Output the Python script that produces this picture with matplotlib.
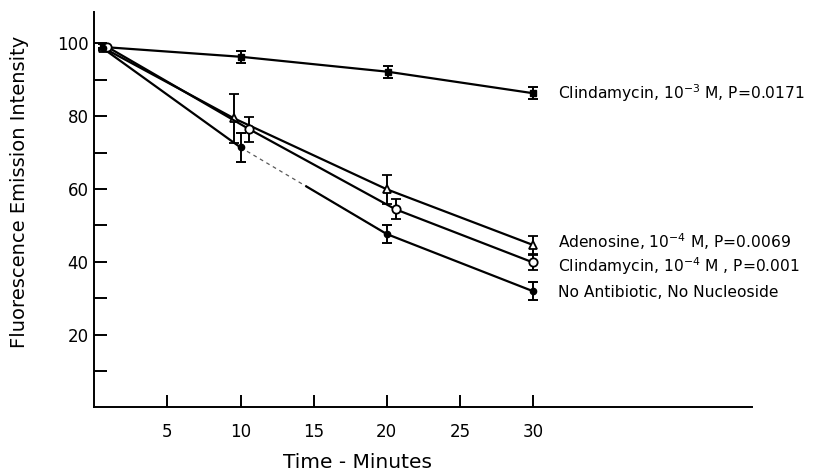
import numpy as np
import matplotlib
matplotlib.use("Agg")
import matplotlib.pyplot as plt

# ---- data ----
clin3_t = [0.6, 10.05, 20.07, 30.0]
clin3_v = [99.0, 96.3, 92.2, 86.3]
clin3_e = [0.8, 1.6, 1.7, 1.6]

aden_t = [0.6, 9.55, 20.0, 30.0]
aden_v = [98.8, 79.4, 59.9, 44.6]
aden_e = [0.0, 6.7, 4.0, 2.4]

clin4_t = [0.9, 10.6, 20.6, 30.0]
clin4_v = [99.0, 76.4, 54.4, 39.8]
clin4_e = [0.0, 3.5, 2.7, 2.0]

none_t = [0.6, 10.0, 20.0, 30.0]
none_v = [98.6, 71.4, 47.6, 31.9]
none_e = [0.0, 4.0, 2.4, 2.5]

labels = [
    r"Clindamycin, 10$^{-3}$ M, P=0.0171",
    r"Adenosine, 10$^{-4}$ M, P=0.0069",
    r"Clindamycin, 10$^{-4}$ M , P=0.001",
    "No Antibiotic, No Nucleoside",
]
label_y = [86.4, 45.6, 38.9, 31.6]

x_ticks = [5, 10, 15, 20, 25, 30]
y_major = [20, 40, 60, 80, 100]
y_minor = [10, 30, 50, 70, 90]

plt.rcParams['font.family'] = ['DejaVu Sans']

fig = plt.figure(figsize=(8.25, 4.75), dpi=100)
ax = fig.add_axes([0.1143, 0.1425, 0.7977, 0.8329])

lw = 1.6
eb_kw = dict(ecolor='black', elinewidth=1.4, capsize=3.5, capthick=1.4, color='black', lw=lw)

ax.errorbar(clin3_t, clin3_v, yerr=clin3_e, marker='s', ms=4, mfc='black', mec='black', **eb_kw)
ax.errorbar(aden_t, aden_v, yerr=aden_e, marker='^', ms=6, mfc='white', mec='black', mew=1.3, **eb_kw)
ax.errorbar(clin4_t, clin4_v, yerr=clin4_e, marker='o', ms=6, mfc='white', mec='black', mew=1.3, **eb_kw)

# No antibiotic series: drawn piecewise, with a faint dashed stretch after t=10
nt = np.array(none_t)
nv = np.array(none_v)
f = 0.45
mid_t = nt[1] + f * (nt[2] - nt[1])
mid_v = nv[1] + f * (nv[2] - nv[1])
ax.plot(nt[:2], nv[:2], color='black', lw=lw)
ax.plot(nt[1:3], nv[1:3], color='0.35', lw=0.9, ls=(0, (3, 3)))
ax.plot([mid_t, nt[2]], [mid_v, nv[2]], color='black', lw=lw)
ax.plot(nt[2:], nv[2:], color='black', lw=lw)
ax.errorbar(none_t, none_v, yerr=none_e, fmt='o', ms=4.5, mfc='black', mec='black',
            ecolor='black', elinewidth=1.4, capsize=3.5, capthick=1.4)

for lab, ly in zip(labels, label_y):
    ax.text(31.7, ly, lab, fontsize=11.2, va='center', ha='left')

ax.set_xlim(0, 45)
ax.set_ylim(0, 108.7)
ax.spines['top'].set_visible(False)
ax.spines['right'].set_visible(False)
for s in ['left', 'bottom']:
    ax.spines[s].set_linewidth(1.4)

ax.set_xticks(x_ticks)
ax.set_xticklabels([str(v) for v in x_ticks])
ax.set_yticks(y_major)
ax.set_yticklabels([str(v) for v in y_major])
ax.set_yticks(y_minor, minor=True)
ax.tick_params(axis='x', direction='in', length=9, width=1.4, pad=11, labelsize=12)
ax.tick_params(axis='y', which='both', direction='in', length=9, width=1.4, pad=4, labelsize=12)

ax.text(18.0, -0.14, "Time - Minutes", transform=ax.get_xaxis_transform(),
        ha='center', va='center', fontsize=14.5)
fig.text(0.024, 0.596, "Fluorescence Emission Intensity", rotation=90,
         ha='center', va='center', fontsize=14)

fig.savefig("out.png", dpi=100)
